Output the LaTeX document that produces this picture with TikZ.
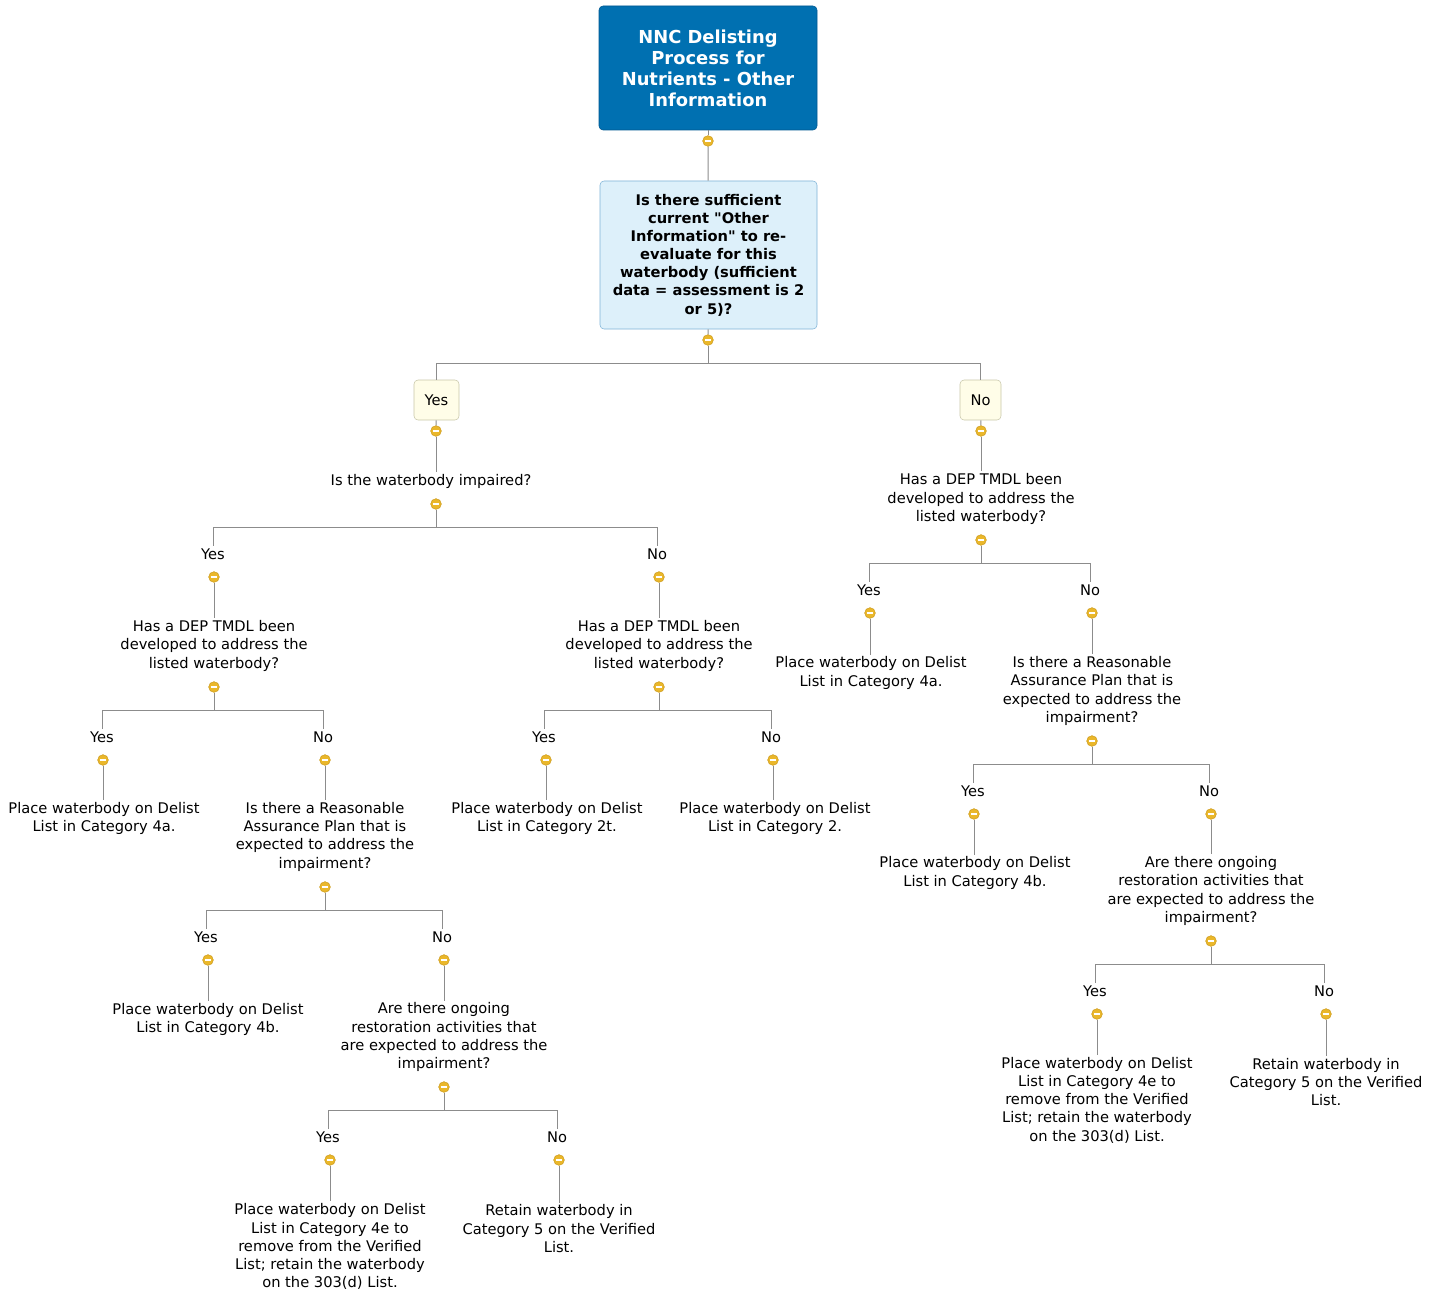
\documentclass[tikz,border=0pt]{standalone}
\usepackage{fontspec}
\newfontfamily\nncfont{DejaVu Sans}
\usepackage{tikz}
\usetikzlibrary{calc}
\definecolor{rootFg}{RGB}{0, 88, 145}
\definecolor{rootBg}{RGB}{0, 112, 177}
\definecolor{qFg}{RGB}{126, 178, 214}
\definecolor{qBg}{RGB}{221, 240, 250}
\definecolor{ansFg}{RGB}{200, 198, 168}
\definecolor{ansBg}{RGB}{255, 253, 232}
\definecolor{dotFg}{RGB}{205, 155, 30}
\definecolor{dotBg}{RGB}{234, 183, 42}
\definecolor{lineGray}{RGB}{140, 140, 140}
\tikzstyle{line} = [draw=lineGray, line width=0.75pt]
\tikzstyle{rootbox} = [rectangle, rounded corners=3pt, draw=rootFg, fill=rootBg, text=white, align=center, minimum width=163.5pt, minimum height=93pt, font=\nncfont\bfseries\fontsize{13.4}{15.75}\selectfont]
\tikzstyle{qbox} = [rectangle, rounded corners=3pt, draw=qFg, fill=qBg, text=black, align=center, minimum width=162.75pt, minimum height=111pt, font=\nncfont\bfseries\fontsize{11}{13.6}\selectfont]
\tikzstyle{ansbox} = [rectangle, rounded corners=3pt, draw=ansFg, fill=ansBg, text=black, minimum height=30pt, font=\nncfont\fontsize{11}{13.7}\selectfont]
\tikzstyle{ans} = [inner sep=1.5pt, font=\nncfont\fontsize{11}{13.7}\selectfont]
\tikzstyle{txt} = [inner sep=1.5pt, align=center, font=\nncfont\fontsize{11}{13.7}\selectfont]
\tikzstyle{dot} = [circle, inner sep=0pt, minimum size=8pt, draw=dotFg, line width=0.4pt, fill=dotBg, path picture={\draw[white, line width=1.3pt] ([xshift=-2.3pt]path picture bounding box.center) -- ([xshift=2.3pt]path picture bounding box.center);}]

\begin{document}
\begin{tikzpicture}[x=0.75pt, y=-0.75pt]
\useasboundingbox (0,0) rectangle (1441,1291);

\node (root) [rootbox] at(708,68) {NNC Delisting\\Process for\\Nutrients - Other\\Information};
\node (d0) [dot] at(708,141) {};
\node (q1) [qbox] at(708.5,255) {Is there sufficient\\current "Other\\Information" to re-\\evaluate for this\\waterbody (sufficient\\data = assessment is 2\\or 5)?};
\node (dq1) [dot] at(708,340) {};
\coordinate (sq1) at(708,363);
\draw [line] (root) -- (d0);
\draw [line] (d0) -- (q1);
\draw [line] (q1) -- (dq1);
\draw [line] (dq1) -- (sq1);

\node (yesA) [ansbox, minimum width=33.75pt] at(436.5,400) {Yes};
\node (noA) [ansbox, minimum width=30.75pt] at(980.5,400) {No};
\node (dyA) [dot] at(436,431) {};
\node (dnA) [dot] at(981,431) {};
\draw [line] (sq1) -| (yesA);
\draw [line] (sq1) -| (noA);
\draw [line] (yesA) -- (dyA);
\draw [line] (noA) -- (dnA);

% left half
\node (tImp) [txt] at(431,481) {Is the waterbody impaired?};
\node (dImp) [dot] at(436,504) {};
\coordinate (sImp) at(436,527);
\draw [line] (dyA) -- (dyA |- tImp.north);
\draw [line] (dImp) -- (sImp);

\node (l1y) [ans] at(213,554) {Yes};
\node (d1y) [dot] at(214,577) {};
\node (t1y) [txt] at(214,645.7) {Has a DEP TMDL been\\developed to address the\\listed waterbody?};
\node (dt1y) [dot] at(214,687) {};
\coordinate (st1y) at(214,710);
\draw [line] (sImp) -| (l1y);
\draw [line] (d1y) -- (d1y |- t1y.north);
\draw [line] (dt1y) -- (st1y);

\node (l2y) [ans] at(102,737) {Yes};
\node (d2y) [dot] at(103,760) {};
\node (t2y) [txt] at(104,818.5) {Place waterbody on Delist\\List in Category 4a.};
\draw [line] (st1y) -| (l2y);
\draw [line] (d2y) -- (d2y |- t2y.north);

\node (l2n) [ans] at(323,737) {No};
\node (d2n) [dot] at(325,760) {};
\node (t2n) [txt] at(325,836.8) {Is there a Reasonable\\Assurance Plan that is\\expected to address the\\impairment?};
\node (dt2n) [dot] at(325,887) {};
\coordinate (st2n) at(325,910);
\draw [line] (st1y) -| (l2n);
\draw [line] (d2n) -- (d2n |- t2n.north);
\draw [line] (dt2n) -- (st2n);

\node (l3y) [ans] at(206,937) {Yes};
\node (d3y) [dot] at(208,960) {};
\node (t3y) [txt] at(208,1019.5) {Place waterbody on Delist\\List in Category 4b.};
\draw [line] (st2n) -| (l3y);
\draw [line] (d3y) -- (d3y |- t3y.north);

\node (l3n) [ans] at(442,937) {No};
\node (d3n) [dot] at(444,960) {};
\node (t3n) [txt] at(444,1037.3) {Are there ongoing\\restoration activities that\\are expected to address the\\impairment?};
\node (dt3n) [dot] at(444,1087) {};
\coordinate (st3n) at(444,1110);
\draw [line] (st2n) -| (l3n);
\draw [line] (d3n) -- (d3n |- t3n.north);
\draw [line] (dt3n) -- (st3n);

\node (l4y) [ans] at(328,1137) {Yes};
\node (d4y) [dot] at(330,1160) {};
\node (t4y) [txt] at(330,1246.8) {Place waterbody on Delist\\List in Category 4e to\\remove from the Verified\\List; retain the waterbody\\on the 303(d) List.};
\draw [line] (st3n) -| (l4y);
\draw [line] (d4y) -- (d4y |- t4y.north);

\node (l4n) [ans] at(557,1137) {No};
\node (d4n) [dot] at(559,1160) {};
\node (t4n) [txt] at(559,1228.7) {Retain waterbody in\\Category 5 on the Verified\\List.};
\draw [line] (st3n) -| (l4n);
\draw [line] (d4n) -- (d4n |- t4n.north);

\node (l1n) [ans] at(657,554) {No};
\node (d1n) [dot] at(659,577) {};
\node (t1n) [txt] at(659,645.7) {Has a DEP TMDL been\\developed to address the\\listed waterbody?};
\node (dt1n) [dot] at(659,687) {};
\coordinate (st1n) at(659,710);
\draw [line] (sImp) -| (l1n);
\draw [line] (d1n) -- (d1n |- t1n.north);
\draw [line] (dt1n) -- (st1n);

\node (l5y) [ans] at(544,737) {Yes};
\node (d5y) [dot] at(546,760) {};
\node (t5y) [txt] at(547,818.5) {Place waterbody on Delist\\List in Category 2t.};
\draw [line] (st1n) -| (l5y);
\draw [line] (d5y) -- (d5y |- t5y.north);

\node (l5n) [ans] at(771,737) {No};
\node (d5n) [dot] at(773,760) {};
\node (t5n) [txt] at(775,818.5) {Place waterbody on Delist\\List in Category 2.};
\draw [line] (st1n) -| (l5n);
\draw [line] (d5n) -- (d5n |- t5n.north);

% right half
\node (tR) [txt] at(981,499) {Has a DEP TMDL been\\developed to address the\\listed waterbody?};
\node (dtR) [dot] at(981,540) {};
\coordinate (stR) at(981,563);
\draw [line] (dnA) -- (dnA |- tR.north);
\draw [line] (dtR) -- (stR);

\node (l6y) [ans] at(869,590) {Yes};
\node (d6y) [dot] at(870,613) {};
\node (t6y) [txt] at(871,673) {Place waterbody on Delist\\List in Category 4a.};
\draw [line] (stR) -| (l6y);
\draw [line] (d6y) -- (d6y |- t6y.north);

\node (l6n) [ans] at(1090,590) {No};
\node (d6n) [dot] at(1092,613) {};
\node (t6n) [txt] at(1092,691) {Is there a Reasonable\\Assurance Plan that is\\expected to address the\\impairment?};
\node (dt6n) [dot] at(1092,741) {};
\coordinate (st6n) at(1092,764);
\draw [line] (stR) -| (l6n);
\draw [line] (d6n) -- (d6n |- t6n.north);
\draw [line] (dt6n) -- (st6n);

\node (l7y) [ans] at(973,791) {Yes};
\node (d7y) [dot] at(974,814) {};
\node (t7y) [txt] at(975,873) {Place waterbody on Delist\\List in Category 4b.};
\draw [line] (st6n) -| (l7y);
\draw [line] (d7y) -- (d7y |- t7y.north);

\node (l7n) [ans] at(1209,791) {No};
\node (d7n) [dot] at(1211,814) {};
\node (t7n) [txt] at(1211,891) {Are there ongoing\\restoration activities that\\are expected to address the\\impairment?};
\node (dt7n) [dot] at(1211,941) {};
\coordinate (st7n) at(1211,964);
\draw [line] (st6n) -| (l7n);
\draw [line] (d7n) -- (d7n |- t7n.north);
\draw [line] (dt7n) -- (st7n);

\node (l8y) [ans] at(1095,991) {Yes};
\node (d8y) [dot] at(1097,1014) {};
\node (t8y) [txt] at(1097,1100) {Place waterbody on Delist\\List in Category 4e to\\remove from the Verified\\List; retain the waterbody\\on the 303(d) List.};
\draw [line] (st7n) -| (l8y);
\draw [line] (d8y) -- (d8y |- t8y.north);

\node (l8n) [ans] at(1324,991) {No};
\node (d8n) [dot] at(1326,1014) {};
\node (t8n) [txt] at(1326,1082) {Retain waterbody in\\Category 5 on the Verified\\List.};
\draw [line] (st7n) -| (l8n);
\draw [line] (d8n) -- (d8n |- t8n.north);

\end{tikzpicture}
\end{document}
